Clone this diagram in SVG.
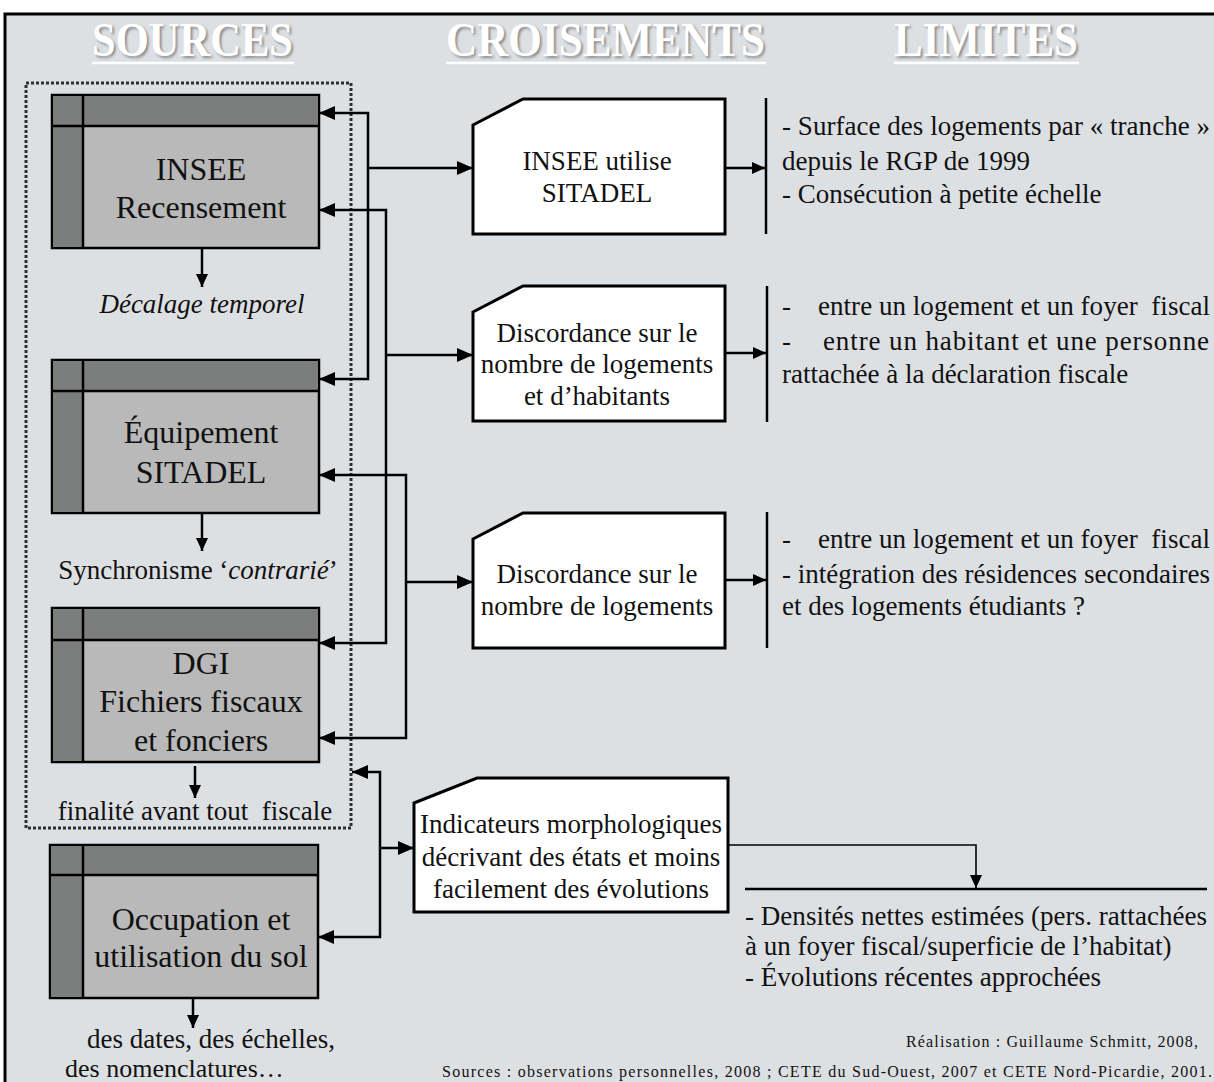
<svg xmlns="http://www.w3.org/2000/svg" width="1214" height="1082" viewBox="0 0 1214 1082">
  <defs>
    <marker id="arr" viewBox="0 0 16 14" refX="16" refY="7" markerWidth="16" markerHeight="14" markerUnits="userSpaceOnUse" orient="auto-start-reverse">
      <path d="M0,0 L16,7 L0,14 Z" fill="#000"/>
    </marker>
    <marker id="arrS" viewBox="0 0 13 12" refX="13" refY="6" markerWidth="13" markerHeight="12" markerUnits="userSpaceOnUse" orient="auto-start-reverse">
      <path d="M0,0 L13,6 L0,12 Z" fill="#000"/>
    </marker>
    <filter id="soft" x="-5%" y="-20%" width="110%" height="140%">
      <feGaussianBlur stdDeviation="1.2"/>
    </filter>
    <style>
      text { font-family: "Liberation Serif", "Times New Roman", serif; fill: #111; }
      .head { font-size: 38px; font-weight: bold; fill: #ffffff; }
      .headShadow { font-size: 38px; font-weight: bold; fill: #8a8d90; }
      .uline { stroke: #ffffff; stroke-width: 2.5; }
      .src { font-size: 32px; text-anchor: middle; }
      .note { font-size: 27px; text-anchor: middle; }
      .cross { font-size: 27px; text-anchor: middle; }
      .lim { font-size: 27px; }
      .credit { font-size: 16px; text-anchor: end; }
      .outer { fill: #b9b9b9; stroke: #000; stroke-width: 2.5; }
      .band { fill: #7c7e7d; }
      .div { stroke: #000; stroke-width: 2.5; }
      .card { fill: #ffffff; stroke: #000; stroke-width: 3; }
      .wire { fill: none; stroke: #000; stroke-width: 2.5; }
      .thin { fill: none; stroke: #000; stroke-width: 1.6; }
      .bar { stroke: #000; stroke-width: 2.5; }
    </style>
  </defs>

  <!-- page and frame -->
  <rect x="0" y="0" width="1214" height="1082" fill="#ffffff"/>
  <rect x="5" y="14" width="1220" height="1080" fill="#dde0e3" stroke="#000" stroke-width="3"/>

  <!-- column headings (tall, condensed lettering) -->
  <g id="headings">
    <g transform="translate(0,56) scale(1,1.3)">
      <text class="headShadow" x="94" y="1.5" textLength="201" lengthAdjust="spacingAndGlyphs" filter="url(#soft)">SOURCES</text>
      <text class="head" x="92" y="0" textLength="201" lengthAdjust="spacingAndGlyphs">SOURCES</text>
      <text class="headShadow" x="448" y="1.5" textLength="319" lengthAdjust="spacingAndGlyphs" filter="url(#soft)">CROISEMENTS</text>
      <text class="head" x="446" y="0" textLength="319" lengthAdjust="spacingAndGlyphs">CROISEMENTS</text>
      <text class="headShadow" x="896" y="1.5" textLength="184" lengthAdjust="spacingAndGlyphs" filter="url(#soft)">LIMITES</text>
      <text class="head" x="894" y="0" textLength="184" lengthAdjust="spacingAndGlyphs">LIMITES</text>
    </g>
    <line class="uline" x1="92" y1="63" x2="294" y2="63"/>
    <line class="uline" x1="446" y1="63" x2="766" y2="63"/>
    <line class="uline" x1="894" y1="63" x2="1079" y2="63"/>
  </g>

  <!-- dotted grouping of the three statistical sources -->
  <rect id="sourceGroup" x="26" y="83" width="325" height="745" fill="none" stroke="#2e2e2e" stroke-width="3" stroke-dasharray="3 2"/>

  <!-- source nodes -->
  <g id="insee">
    <rect class="outer" x="52" y="95" width="267" height="153"/>
    <rect class="band" x="53" y="96" width="265" height="30"/>
    <rect class="band" x="53" y="96" width="30" height="151"/>
    <line class="div" x1="52" y1="126" x2="319" y2="126"/>
    <line class="div" x1="83" y1="95" x2="83" y2="248"/>
    <text class="src" x="201" y="180">INSEE</text>
    <text class="src" x="201" y="218">Recensement</text>
  </g>
  <g id="sitadel">
    <rect class="outer" x="52" y="360" width="267" height="153"/>
    <rect class="band" x="53" y="361" width="265" height="30"/>
    <rect class="band" x="53" y="361" width="30" height="151"/>
    <line class="div" x1="52" y1="391" x2="319" y2="391"/>
    <line class="div" x1="83" y1="360" x2="83" y2="513"/>
    <text class="src" x="201" y="443">Équipement</text>
    <text class="src" x="201" y="483">SITADEL</text>
  </g>
  <g id="dgi">
    <rect class="outer" x="52" y="608" width="267" height="154"/>
    <rect class="band" x="53" y="609" width="265" height="31"/>
    <rect class="band" x="53" y="609" width="30" height="152"/>
    <line class="div" x1="52" y1="640" x2="319" y2="640"/>
    <line class="div" x1="83" y1="608" x2="83" y2="762"/>
    <text class="src" x="201" y="674">DGI</text>
    <text class="src" x="201" y="712">Fichiers fiscaux</text>
    <text class="src" x="201" y="751">et fonciers</text>
  </g>
  <g id="occupation">
    <rect class="outer" x="50" y="845" width="268" height="153"/>
    <rect class="band" x="51" y="846" width="266" height="29"/>
    <rect class="band" x="51" y="846" width="32" height="151"/>
    <line class="div" x1="50" y1="875" x2="318" y2="875"/>
    <line class="div" x1="83" y1="845" x2="83" y2="998"/>
    <text class="src" x="201" y="930">Occupation et</text>
    <text class="src" x="201" y="967">utilisation du sol</text>
  </g>

  <!-- notes under the sources -->
  <g id="notes">
    <text class="note" x="202" y="313" font-style="italic">Décalage temporel</text>
    <text class="note" x="198" y="579" font-size="26">Synchronisme ‘<tspan font-style="italic">contrarié</tspan>’</text>
    <text class="note" x="195" y="820">finalité avant tout&#160; fiscale</text>
    <text class="note" x="211" y="1048" font-size="26">des dates, des échelles,</text>
    <text x="65" y="1077" font-size="26">des nomenclatures…</text>
  </g>

  <!-- crossing nodes -->
  <g id="croisement1">
    <path class="card" d="M473,125 L523,99 H725 V234 H473 Z"/>
    <text class="cross" x="597" y="170">INSEE utilise</text>
    <text class="cross" x="597" y="202">SITADEL</text>
  </g>
  <g id="croisement2">
    <path class="card" d="M473,312 L523,286 H725 V421 H473 Z"/>
    <text class="cross" x="597" y="342">Discordance sur le</text>
    <text class="cross" x="597" y="373">nombre de logements</text>
    <text class="cross" x="597" y="405">et d’habitants</text>
  </g>
  <g id="croisement3">
    <path class="card" d="M473,539 L523,513 H725 V648 H473 Z"/>
    <text class="cross" x="597" y="583">Discordance sur le</text>
    <text class="cross" x="597" y="615">nombre de logements</text>
  </g>
  <g id="croisement4">
    <path class="card" d="M414,803 L477,778 H728 V912 H414 Z"/>
    <text class="cross" x="571" y="833">Indicateurs morphologiques</text>
    <text class="cross" x="571" y="866">décrivant des états et moins</text>
    <text class="cross" x="571" y="898">facilement des évolutions</text>
  </g>

  <!-- limits -->
  <g id="limite1">
    <line class="bar" x1="766" y1="98" x2="766" y2="234"/>
    <text class="lim" x="782" y="135" textLength="428" lengthAdjust="spacing">- Surface des logements par « tranche »</text>
    <text class="lim" x="782" y="170">depuis le RGP de 1999</text>
    <text class="lim" x="782" y="203">- Consécution à petite échelle</text>
  </g>
  <g id="limite2">
    <line class="bar" x1="767" y1="286" x2="767" y2="422"/>
    <text class="lim" x="782" y="315">-</text>
    <text class="lim" x="818" y="315" textLength="392" lengthAdjust="spacing">entre un logement et un foyer&#160; fiscal</text>
    <text class="lim" x="782" y="350">-</text>
    <text class="lim" x="823" y="350" textLength="386" lengthAdjust="spacing">entre un habitant et une personne</text>
    <text class="lim" x="782" y="383">rattachée à la déclaration fiscale</text>
  </g>
  <g id="limite3">
    <line class="bar" x1="767" y1="512" x2="767" y2="648"/>
    <text class="lim" x="782" y="548">-</text>
    <text class="lim" x="818" y="548" textLength="392" lengthAdjust="spacing">entre un logement et un foyer&#160; fiscal</text>
    <text class="lim" x="782" y="583" textLength="428" lengthAdjust="spacing">- intégration des résidences secondaires</text>
    <text class="lim" x="782" y="615">et des logements étudiants ?</text>
  </g>
  <g id="limite4">
    <line class="bar" x1="745" y1="889" x2="1207" y2="889"/>
    <text class="lim" x="745" y="925" textLength="462" lengthAdjust="spacing">- Densités nettes estimées (pers. rattachées</text>
    <text class="lim" x="745" y="955">à un foyer fiscal/superficie de l’habitat)</text>
    <text class="lim" x="745" y="986">- Évolutions récentes approchées</text>
  </g>

  <!-- connectors -->
  <g id="connectors">
    <path class="wire" d="M319,113 H368 V379 H319" marker-start="url(#arr)" marker-end="url(#arr)"/>
    <path class="wire" d="M368,168 H473" marker-end="url(#arr)"/>
    <path class="wire" d="M319,210 H386 V643 H319" marker-start="url(#arr)" marker-end="url(#arr)"/>
    <path class="wire" d="M386,355 H473" marker-end="url(#arr)"/>
    <path class="wire" d="M319,475 H406 V738 H319" marker-start="url(#arr)" marker-end="url(#arr)"/>
    <path class="wire" d="M406,582 H473" marker-end="url(#arr)"/>
    <path class="wire" d="M352,772 H380 V937 H318" marker-start="url(#arr)" marker-end="url(#arr)"/>
    <path class="wire" d="M380,848 H414" marker-end="url(#arr)"/>
    <path class="wire" d="M725,168 H765" marker-end="url(#arrS)"/>
    <path class="wire" d="M725,353 H766" marker-end="url(#arrS)"/>
    <path class="wire" d="M725,580 H766" marker-end="url(#arrS)"/>
    <path class="thin" d="M728,845 H976 V888" marker-end="url(#arrS)"/>
    <path class="wire" d="M202,248 V287" marker-end="url(#arrS)"/>
    <path class="wire" d="M202,513 V551" marker-end="url(#arrS)"/>
    <path class="wire" d="M195,766 V798" marker-end="url(#arrS)"/>
    <path class="wire" d="M193,998 V1028" marker-end="url(#arrS)"/>
  </g>

  <!-- credits -->
  <g id="credits">
    <text class="credit" x="1198" y="1047" textLength="292" lengthAdjust="spacing">Réalisation : Guillaume Schmitt, 2008,</text>
    <text class="credit" x="1212" y="1077" textLength="770" lengthAdjust="spacing">Sources : observations personnelles, 2008 ; CETE du Sud-Ouest, 2007 et CETE Nord-Picardie, 2001.</text>
  </g>
</svg>
